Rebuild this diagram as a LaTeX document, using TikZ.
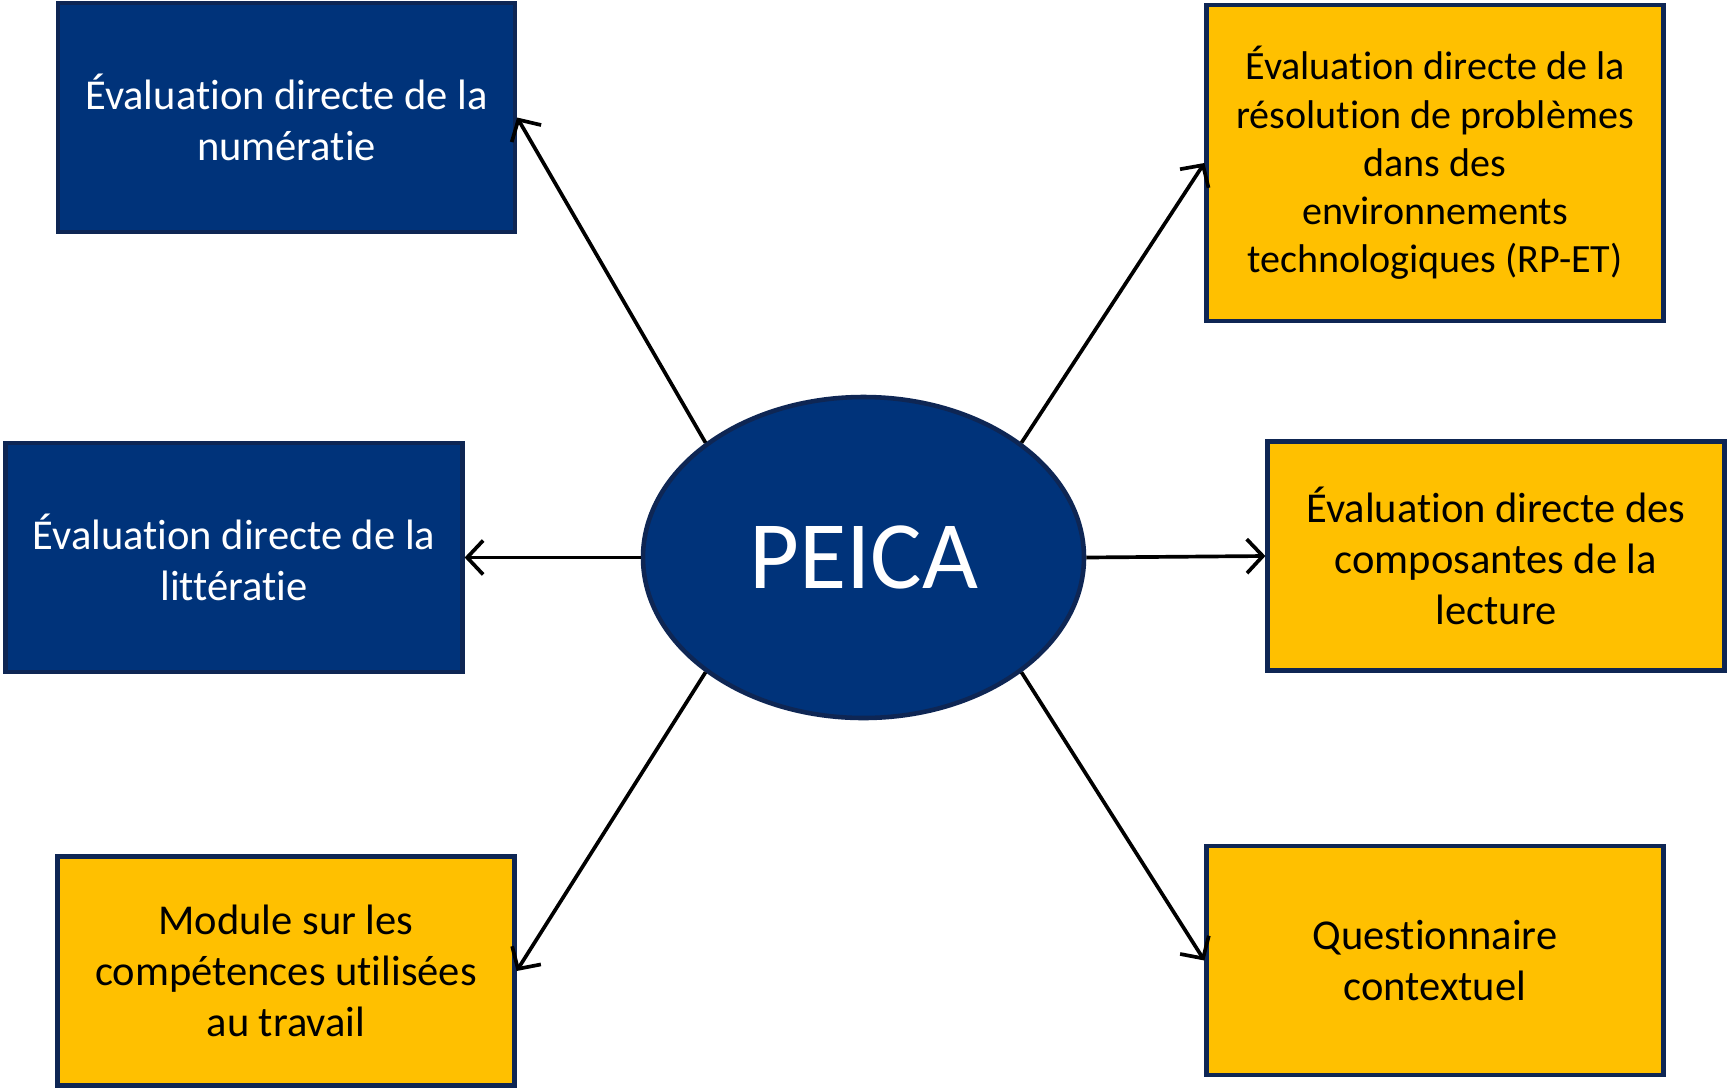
\documentclass[tikz,border=0pt]{standalone}
\usepackage{fontspec}
\setmainfont{Carlito}[Ligatures=NoCommon]
\usetikzlibrary{shapes.geometric,arrows.meta}
\definecolor{peicablue}{HTML}{00337A}
\definecolor{peicaedge}{HTML}{0E2654}
\definecolor{peicagold}{HTML}{FFC000}
\begin{document}
\begin{tikzpicture}[
	bluebox/.style={draw=peicaedge, line width=1.2pt, fill=peicablue, text=white,
		minimum width=4.57cm, minimum height=2.29cm, align=center, inner sep=0pt,
		font=\fontsize{12.1}{14.6}\selectfont},
	goldbox/.style={bluebox, fill=peicagold, text=black},
	link/.style={line width=1.05pt, -{Straight Barb[length=1.6mm,width=3.4mm]}}]
	\useasboundingbox [fill=white] (0,0) rectangle (17.29,-10.88);
	\node [ellipse, draw=peicaedge, line width=1.3pt, fill=peicablue, text=white,
		minimum width=4.41cm, minimum height=3.21cm, inner sep=0pt,
		font=\fontsize{27.5}{33}\selectfont] (peica) at (8.635,-5.575) {PEICA};
	\node [bluebox] (num) at (2.865,-1.175) {Évaluation directe de la\\numératie};
	\node [bluebox] (lit) at (2.34,-5.575) {Évaluation directe de la\\littératie};
	\node [goldbox] (mod) at (2.86,-9.71) {Module sur les\\compétences utilisées\\au travail};
	\node [goldbox, minimum height=3.16cm, font=\fontsize{11.4}{13.7}\selectfont] (rpet) at (14.35,-1.63)
		{Évaluation directe de la\\résolution de problèmes\\dans des\\environnements\\technologiques (RP-ET)};
	\node [goldbox] (comp) at (14.96,-5.56) {Évaluation directe des\\composantes de la\\lecture};
	\node [goldbox] (quest) at (14.35,-9.605) {Questionnaire\\contextuel};
	\draw [link] (peica.144) -- (num.east);
	\draw [link] (peica.west) -- (lit.east);
	\draw [link] (peica.216) -- (mod.east);
	\draw [link] (peica.36) -- (rpet.west);
	\draw [link] (peica.east) -- (comp.west);
	\draw [link] (peica.324) -- (quest.west);
\end{tikzpicture}
\end{document}
